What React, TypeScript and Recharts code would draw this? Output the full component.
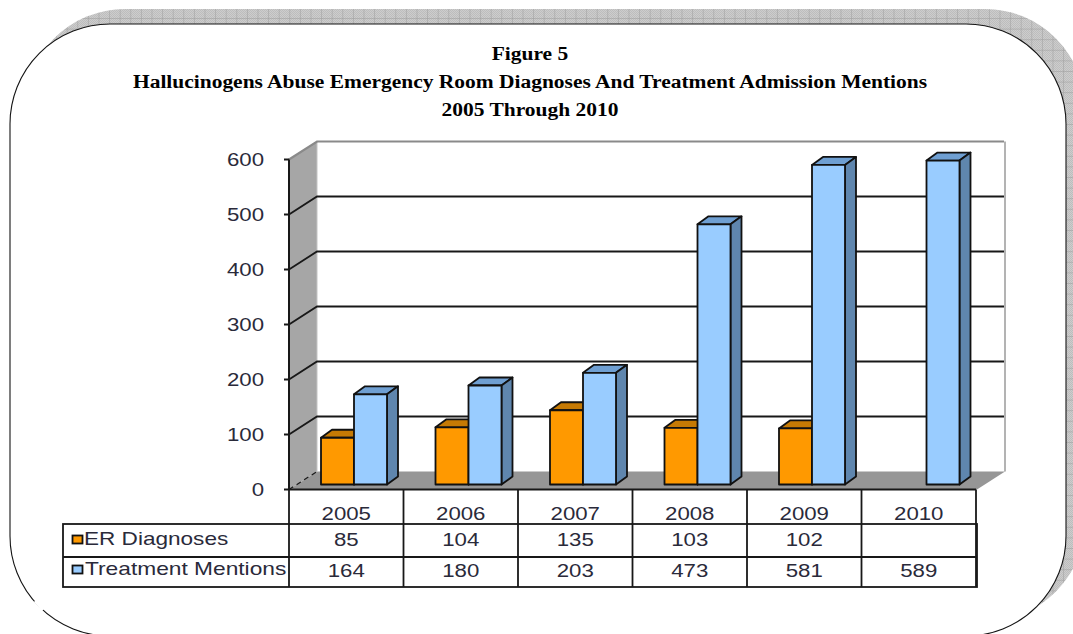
import { Bar, BarChart, CartesianGrid, XAxis, YAxis } from 'recharts';

const years = ['2005', '2006', '2007', '2008', '2009', '2010'];
const erDiagnoses = [85, 104, 135, 103, 102, null];
const treatmentMentions = [164, 180, 203, 473, 581, 589];
const yTicks = [0, 100, 200, 300, 400, 500, 600];
const titleLines = [
  'Figure 5',
  'Hallucinogens Abuse Emergency Room Diagnoses And Treatment Admission Mentions',
  '2005 Through 2010',
];

const data = years.map((year, i) => ({
  year,
  er: erDiagnoses[i],
  treatment: treatmentMentions[i],
}));

const W = 1073;
const H = 634;
const PLOT_LEFT = 289;
const PLOT_RIGHT = 976;
const PLOT_TOP = 159.5;
const PLOT_BOTTOM = 489.5;
const COL = (PLOT_RIGHT - PLOT_LEFT) / years.length;
// depth of the chart box, and the smaller depth of each column
const DEPTH_X = 28;
const DEPTH_Y = 18;
const BAR_DX = 11;
const BAR_DY = 8;

const SANS = '"Liberation Sans", Arial, sans-serif';
const INK = '#181818';
const TEXT_INK = '#2a2a3a';

// the sheet's sans text is set wide, so it is stretched rather than letter-spaced
function WideText({ x, y, anchor = 'start', stretch = 1.27, children }: any) {
  return (
    <text
      transform={`translate(${x} ${y}) scale(${stretch} 1)`}
      textAnchor={anchor}
      fontFamily={SANS}
      fontSize={17.5}
      fill={TEXT_INK}
    >
      {children}
    </text>
  );
}

function make3dBar(front: string, top: string, side: string) {
  // eslint-disable-next-line @typescript-eslint/no-explicit-any
  return function Bar3d(props: any) {
    const { x, y, width, height } = props;
    if (!height) return <g />;
    // columns stand a little back from the front edge of the floor
    const l = x + 8;
    const t = y - 5;
    const r = l + width;
    const b = t + height;
    return (
      <g stroke="#111" strokeWidth={1.8} strokeLinejoin="round">
        <polygon points={`${l},${t} ${l + BAR_DX},${t - BAR_DY} ${r + BAR_DX},${t - BAR_DY} ${r},${t}`} fill={top} />
        <polygon points={`${r},${t} ${r + BAR_DX},${t - BAR_DY} ${r + BAR_DX},${b - BAR_DY} ${r},${b}`} fill={side} />
        <rect x={l} y={t} width={width} height={height} fill={front} />
      </g>
    );
  };
}

const ErBar = make3dBar('#ff9900', '#c67a04', '#c67a04');
const TreatmentBar = make3dBar('#99ccff', '#6f9fd2', '#5f86ae');

// eslint-disable-next-line @typescript-eslint/no-explicit-any
function WallLine(props: any) {
  const { x1, x2, y1, index } = props;
  if (y1 >= PLOT_BOTTOM - 1) return <g key={index} />;
  const isTop = y1 <= PLOT_TOP + 1;
  return (
    <polyline
      key={index}
      points={`${x1},${y1} ${x1 + DEPTH_X},${y1 - DEPTH_Y} ${x2 + DEPTH_X},${y1 - DEPTH_Y}`}
      fill="none"
      stroke={isTop ? '#8a8a8a' : INK}
      strokeWidth={isTop ? 2.2 : 1.8}
    />
  );
}

// eslint-disable-next-line @typescript-eslint/no-explicit-any
function ValueTick(props: any) {
  const { x, y, payload } = props;
  return (
    <WideText x={x} y={y + 6.5} anchor="end">
      {payload.value}
    </WideText>
  );
}

// Each category tick draws its whole column of the data table below the floor
// eslint-disable-next-line @typescript-eslint/no-explicit-any
function TableTick(props: any) {
  const { x, payload, index } = props;
  const er = erDiagnoses[index];
  const left = x - COL / 2;
  const right = x + COL / 2;
  return (
    <g>
      {index === 0 && <line x1={left} x2={left} y1={PLOT_BOTTOM} y2={587} stroke={INK} strokeWidth={1.8} />}
      <line x1={right} x2={right} y1={PLOT_BOTTOM} y2={587} stroke={INK} strokeWidth={1.8} />
      <WideText x={x} y={519.5} anchor="middle">{payload.value}</WideText>
      <WideText x={x} y={545.5} anchor="middle">{er == null ? '' : er}</WideText>
      <WideText x={x} y={576.5} anchor="middle">{treatmentMentions[index]}</WideText>
    </g>
  );
}

function Backdrop() {
  return (
    <svg width={W} height={H} style={{ position: 'absolute', left: 0, top: 0 }}>
      <defs>
        <pattern id="weave" width={2} height={2} patternUnits="userSpaceOnUse">
          <rect width={2} height={2} fill="#cdcdcd" />
          <rect width={1} height={1} fill="#bdbdbd" />
          <rect x={1} y={1} width={1} height={1} fill="#bdbdbd" />
        </pattern>
        <pattern id="gridlines" x={3.1} y={7.4} width={10.6} height={10.6} patternUnits="userSpaceOnUse">
          <path d="M0 0H10.6M0 0V10.6" stroke="#9c9c9c" strokeWidth={1} fill="none" />
        </pattern>
      </defs>

      {/* hatched drop shadow behind the rounded frame */}
      <rect x={25} y={9} width={1060} height={612} rx={100} fill="url(#weave)" />
      <rect x={25} y={9} width={1060} height={612} rx={100} fill="url(#gridlines)" />
      <rect x={10} y={24} width={1056} height={612} rx={100} fill="#fff" stroke="#141414" strokeWidth={1.1} />
      <line x1={35} y1={601} x2={43} y2={610} stroke="#fff" strokeWidth={3} />

      {/* chart box: side wall, floor, back wall edge */}
      <polygon
        points={`${PLOT_LEFT},${PLOT_TOP} ${PLOT_LEFT + DEPTH_X},${PLOT_TOP - DEPTH_Y} ${PLOT_LEFT + DEPTH_X},${PLOT_BOTTOM - DEPTH_Y} ${PLOT_LEFT},${PLOT_BOTTOM}`}
        fill="#a6a6a6"
      />
      <polygon
        points={`${PLOT_LEFT},${PLOT_BOTTOM} ${PLOT_LEFT + DEPTH_X},${PLOT_BOTTOM - DEPTH_Y} ${PLOT_RIGHT + DEPTH_X + 1},${PLOT_BOTTOM - DEPTH_Y} ${PLOT_RIGHT + 1},${PLOT_BOTTOM}`}
        fill="#969696"
      />
      <line
        x1={PLOT_LEFT}
        y1={PLOT_BOTTOM}
        x2={PLOT_LEFT + DEPTH_X}
        y2={PLOT_BOTTOM - DEPTH_Y}
        stroke={INK}
        strokeWidth={1.2}
        strokeDasharray="5 4"
      />
      <line
        x1={PLOT_RIGHT + DEPTH_X + 1}
        y1={PLOT_TOP - DEPTH_Y}
        x2={PLOT_RIGHT + DEPTH_X + 1}
        y2={PLOT_BOTTOM - DEPTH_Y}
        stroke="#9a9a9a"
        strokeWidth={1.5}
      />
      <line
        x1={PLOT_LEFT + DEPTH_X}
        y1={PLOT_TOP - DEPTH_Y}
        x2={PLOT_LEFT + DEPTH_X}
        y2={PLOT_BOTTOM - DEPTH_Y}
        stroke="#c4c4c4"
        strokeWidth={1}
      />

      {/* data table rules */}
      <g stroke={INK} strokeWidth={1.8} fill="none">
        <line x1={PLOT_LEFT} x2={PLOT_RIGHT} y1={PLOT_BOTTOM} y2={PLOT_BOTTOM} />
        <rect x={63} y={524} width={914} height={63} />
        <line x1={63} x2={977} y1={557} y2={557} />
      </g>

      {/* legend keys and series names */}
      <rect x={72.5} y={535.5} width={10} height={8} fill="#ff9900" stroke="#111" strokeWidth={1.8} />
      <rect x={72.5} y={565.5} width={10} height={8} fill="#99ccff" stroke="#111" strokeWidth={1.8} />
      <WideText x={84} y={544.5} stretch={1.29}>ER Diagnoses</WideText>
      <WideText x={85} y={574.5} stretch={1.3}>Treatment Mentions</WideText>
    </svg>
  );
}

export default function App() {
  return (
    <div style={{ position: 'absolute', left: 0, top: 0, width: W, height: H, overflow: 'hidden', background: '#fff' }}>
      <Backdrop />
      <div
        style={{
          position: 'absolute',
          left: 0,
          top: 40,
          width: 1060,
          textAlign: 'center',
          fontFamily: '"Liberation Serif", "Times New Roman", serif',
          fontWeight: 700,
          fontSize: 18.5,
          lineHeight: '28px',
          color: '#000',
          transform: 'scaleX(1.16)',
          transformOrigin: '530px 0',
        }}
      >
        {titleLines.map(line => (
          <div key={line}>{line}</div>
        ))}
      </div>
      <div style={{ position: 'absolute', left: 0, top: 0 }}>
        <BarChart
          width={W}
          height={H}
          data={data}
          barSize={33}
          barGap={0}
          margin={{ top: PLOT_TOP, right: W - PLOT_RIGHT, bottom: H - PLOT_BOTTOM - 100, left: PLOT_LEFT - 60 }}
        >
          <CartesianGrid vertical={false} horizontal={WallLine} stroke={INK} />
          <XAxis
            dataKey="year"
            height={100}
            interval={0}
            axisLine={false}
            tickLine={false}
            tick={TableTick}
          />
          <YAxis
            width={60}
            domain={[0, 600]}
            ticks={yTicks}
            interval={0}
            stroke={INK}
            strokeWidth={2}
            tickSize={5}
            tickMargin={20}
            tick={ValueTick}
          />
          <Bar dataKey="er" shape={ErBar} isAnimationActive={false} />
          <Bar dataKey="treatment" shape={TreatmentBar} isAnimationActive={false} />
        </BarChart>
      </div>
    </div>
  );
}
